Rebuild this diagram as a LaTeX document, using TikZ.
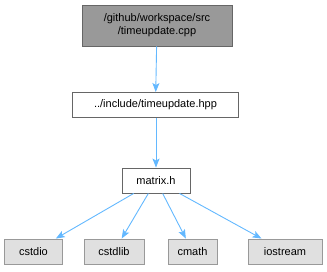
\documentclass[tikz,border=0pt]{standalone}
\usepackage{fontspec}
\setmainfont{Liberation Sans}
\usetikzlibrary{arrows.meta}
\definecolor{edgeblue}{HTML}{63B8FF}
\definecolor{curfill}{HTML}{999999}
\definecolor{curline}{HTML}{666666}
\definecolor{sysfill}{HTML}{E0E0E0}
\definecolor{sysline}{HTML}{999999}
\tikzset{
  filebox/.style={draw=curline, fill=white, line width=0.9pt, inner sep=0pt,
    minimum height=25pt, font=\fontsize{11}{13}\selectfont, align=center},
  curbox/.style={filebox, fill=curfill, minimum height=41pt},
  sysbox/.style={filebox, draw=sysline, fill=sysfill},
  dep/.style={draw=edgeblue, line width=0.9pt,
    -{Stealth[length=9pt, width=7pt, inset=2pt]}}
}
\begin{document}
\begin{tikzpicture}[x=1pt, y=-1pt]
  \useasboundingbox (0,0) rectangle (327,272);
  \node[curbox, minimum width=150pt] (src) at (157,25.5)
    {/github/workspace/src\\/timeupdate.cpp};
  \node[filebox, minimum width=166pt] (hpp) at (155.5,105) {../include/timeupdate.hpp};
  \node[filebox, minimum width=68pt] (mat) at (156,180.5) {matrix.h};
  \node[sysbox, minimum width=58pt] (cstdio) at (33.5,251.5) {cstdio};
  \node[sysbox, minimum width=60pt] (cstdlib) at (114,251.5) {cstdlib};
  \node[sysbox, minimum width=49pt] (cmath) at (192.5,251.5) {cmath};
  \node[sysbox, minimum width=74pt] (iostream) at (285,251.5) {iostream};
  \draw[dep] (src) -- (hpp);
  \draw[dep] (hpp.south -| mat.north) -- (mat);
  \draw[dep] (mat) -- (cstdio);
  \draw[dep] (mat) -- (cstdlib);
  \draw[dep] (mat) -- (cmath);
  \draw[dep] (mat) -- (iostream);
\end{tikzpicture}
\end{document}
